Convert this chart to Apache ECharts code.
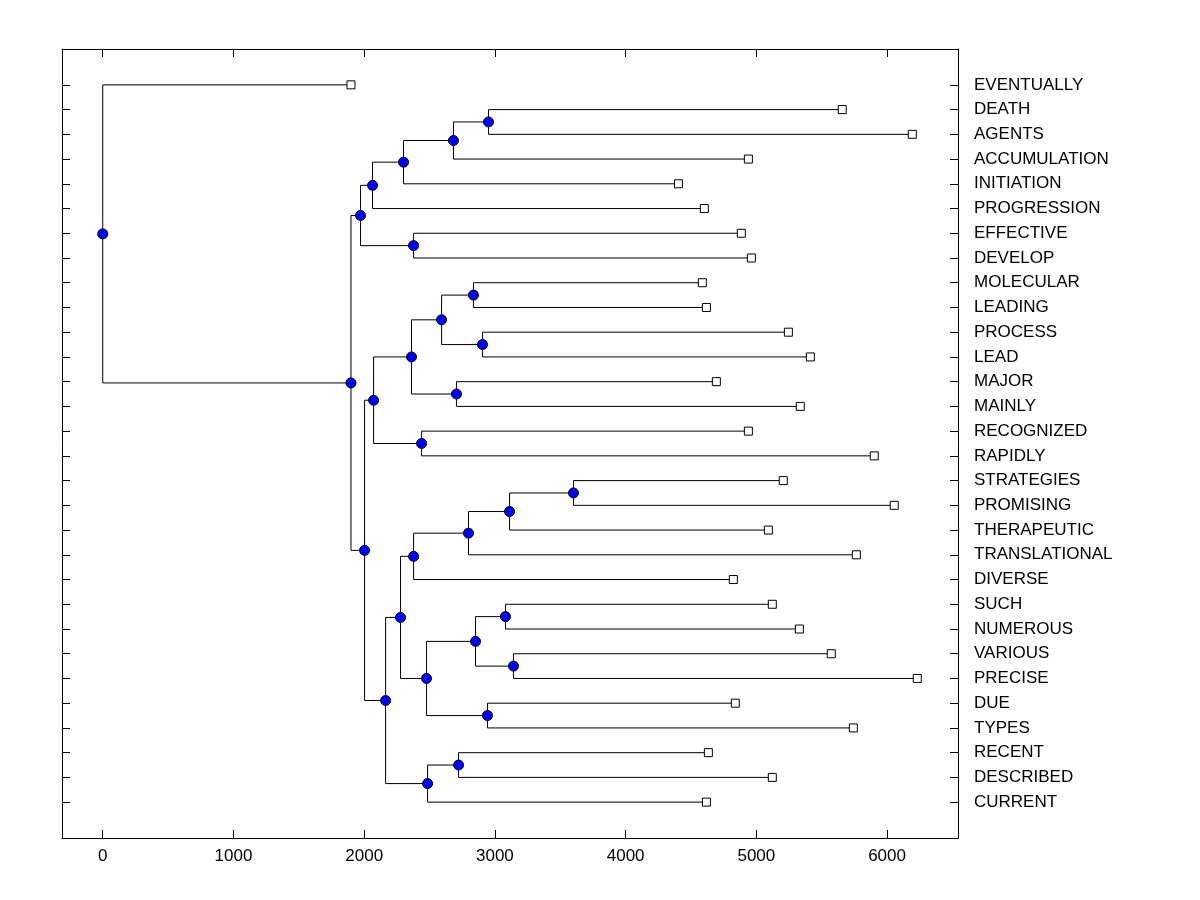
<!DOCTYPE html>
<html>
<head>
<meta charset="utf-8">
<script src="https://cdn.jsdelivr.net/npm/echarts@6/dist/echarts.min.js"></script>
<style>
  html, body { margin: 0; background: #fff; }
  #chart { width: 1200px; height: 900px; }
</style>
</head>
<body>
<div id="chart"></div>
<script>
// leaf words, top to bottom
const words = [
  'EVENTUALLY', 'DEATH', 'AGENTS', 'ACCUMULATION', 'INITIATION', 'PROGRESSION',
  'EFFECTIVE', 'DEVELOP', 'MOLECULAR', 'LEADING', 'PROCESS', 'LEAD', 'MAJOR',
  'MAINLY', 'RECOGNIZED', 'RAPIDLY', 'STRATEGIES', 'PROMISING', 'THERAPEUTIC',
  'TRANSLATIONAL', 'DIVERSE', 'SUCH', 'NUMEROUS', 'VARIOUS', 'PRECISE', 'DUE',
  'TYPES', 'RECENT', 'DESCRIBED', 'CURRENT'
];

// x value of each leaf square
const leafHeights = [
  1899, 5657, 6193, 4939, 4404, 4602,
  4885, 4962, 4587, 4618, 5245, 5413, 4694,
  5336, 4939, 5902, 5206, 6055, 5092,
  5765, 4824, 5122, 5329, 5573, 6231, 4839,
  5742, 4633, 5122, 4618
];

// merges, bottom-up: [child a, child b, height]; merge k is called 'n' + k
const merges = [
  ['DEATH', 'AGENTS', 2951],
  ['n0', 'ACCUMULATION', 2683],
  ['n1', 'INITIATION', 2301],
  ['n2', 'PROGRESSION', 2064],
  ['EFFECTIVE', 'DEVELOP', 2378],
  ['n3', 'n4', 1972],
  ['MOLECULAR', 'LEADING', 2836],
  ['PROCESS', 'LEAD', 2905],
  ['n6', 'n7', 2592],
  ['MAJOR', 'MAINLY', 2706],
  ['n8', 'n9', 2362],
  ['RECOGNIZED', 'RAPIDLY', 2439],
  ['n10', 'n11', 2072],
  ['STRATEGIES', 'PROMISING', 3601],
  ['n13', 'THERAPEUTIC', 3112],
  ['n14', 'TRANSLATIONAL', 2798],
  ['n15', 'DIVERSE', 2378],
  ['SUCH', 'NUMEROUS', 3081],
  ['VARIOUS', 'PRECISE', 3142],
  ['n17', 'n18', 2852],
  ['DUE', 'TYPES', 2943],
  ['n19', 'n20', 2477],
  ['n16', 'n21', 2278],
  ['RECENT', 'DESCRIBED', 2722],
  ['n23', 'CURRENT', 2485],
  ['n22', 'n24', 2164],
  ['n12', 'n25', 2003],
  ['n5', 'n26', 1899],
  ['EVENTUALLY', 'n27', 0]
];

const xTicks = [0, 1000, 2000, 3000, 4000, 5000, 6000];

// build positions
const nodes = {};
words.forEach((w, i) => {
  nodes[w] = { x: leafHeights[i], y: i + 1 };
});

const brackets = [];
const joints = [];
merges.forEach(([a, b, h], k) => {
  const na = nodes[a];
  const nb = nodes[b];
  const y = (na.y + nb.y) / 2;
  nodes['n' + k] = { x: h, y: y };
  brackets.push({ coords: [[na.x, na.y], [h, na.y], [h, nb.y], [nb.x, nb.y]] });
  joints.push([h, y]);
});

const leafPoints = words.map(w => [nodes[w].x, nodes[w].y]);
const leafPos = words.map((w, i) => i + 1);

const maxX = Math.max(...leafHeights);
const xPad = maxX * 0.05;
const yPad = (words.length - 1) * 0.05;

const font = 'Liberation Sans, Arial, sans-serif';

const axisLine = { show: true, onZero: false, lineStyle: { color: '#000', width: 1 } };

const xAxisBase = {
  type: 'value',
  min: -xPad,
  max: maxX + xPad,
  axisLine: axisLine,
  splitLine: { show: false },
  axisTick: { show: true, inside: true, length: 8, customValues: xTicks, lineStyle: { color: '#000' } }
};

const yAxisBase = {
  type: 'value',
  inverse: true,
  min: 1 - yPad,
  max: words.length + yPad,
  axisLine: axisLine,
  splitLine: { show: false },
  axisTick: { show: true, inside: true, length: 8, customValues: leafPos, lineStyle: { color: '#000' } }
};

const chart = echarts.init(document.getElementById('chart'));

chart.setOption({
  animation: false,
  backgroundColor: '#fff',
  grid: { left: 62, right: 242, top: 49, bottom: 62, containLabel: false },
  xAxis: [
    Object.assign({}, xAxisBase, {
      position: 'bottom',
      axisLabel: {
        customValues: xTicks,
        formatter: (v) => String(Math.round(v)),
        color: '#000',
        fontFamily: font,
        fontSize: 17,
        margin: 10
      }
    }),
    Object.assign({}, xAxisBase, {
      position: 'top',
      axisLabel: { show: false }
    })
  ],
  yAxis: [
    Object.assign({}, yAxisBase, {
      position: 'left',
      axisLabel: { show: false }
    }),
    Object.assign({}, yAxisBase, {
      position: 'right',
      axisLabel: {
        customValues: leafPos,
        formatter: (v) => words[Math.round(v) - 1] || '',
        color: '#000',
        fontFamily: font,
        fontSize: 17,
        margin: 16
      }
    })
  ],
  series: [
    {
      type: 'lines',
      coordinateSystem: 'cartesian2d',
      polyline: true,
      silent: true,
      z: 2,
      lineStyle: { color: '#000', width: 1, opacity: 1 },
      data: brackets
    },
    {
      type: 'scatter',
      symbol: 'rect',
      symbolSize: 8,
      silent: true,
      z: 3,
      itemStyle: { color: '#fff', borderColor: '#000', borderWidth: 1, opacity: 1 },
      data: leafPoints
    },
    {
      type: 'scatter',
      symbol: 'circle',
      symbolSize: 10,
      silent: true,
      z: 4,
      itemStyle: { color: '#0000ff', borderColor: '#000', borderWidth: 1, opacity: 1 },
      data: joints
    }
  ]
});
</script>
</body>
</html>
